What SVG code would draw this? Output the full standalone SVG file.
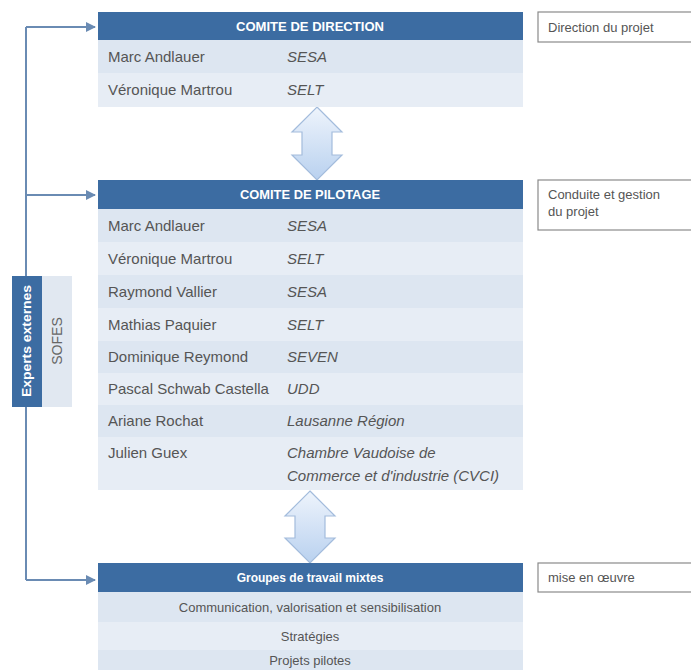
<svg xmlns="http://www.w3.org/2000/svg" width="691" height="670" viewBox="0 0 691 670">
<style>
.hdr{fill:#3c6ca2}
.r1{fill:#dde6f1}
.r2{fill:#e7edf5}
.ht{font-family:"Liberation Sans",Arial,sans-serif;font-weight:bold;fill:#fff;font-size:12px;text-anchor:middle}
.nm{font-family:"Liberation Sans",Arial,sans-serif;font-size:15px;fill:#555}
.org{font-family:"Liberation Sans",Arial,sans-serif;font-size:15px;fill:#555;font-style:italic}
.ct{font-family:"Liberation Sans",Arial,sans-serif;font-size:13px;fill:#555;text-anchor:middle}
.note{fill:#fff;stroke:#8a8a8a;stroke-width:1.2}
.nt{font-family:"Liberation Sans",Arial,sans-serif;font-size:13px;fill:#555}
.conn{fill:none;stroke:#6a8bb3;stroke-width:2}
.dbl{fill:url(#ag);stroke:#a3bcdc;stroke-width:1.2}
</style>
<defs>
<linearGradient id="ag" x1="0" y1="0" x2="0" y2="1">
<stop offset="0" stop-color="#eef4fc"/>
<stop offset="1" stop-color="#b9d1ef"/>
</linearGradient>
<marker id="ah" viewBox="0 0 10 10" refX="9" refY="5" markerWidth="5" markerHeight="5" orient="auto">
<path d="M0,0 L10,5 L0,10 Z" fill="#6a8bb3"/>
</marker>
</defs>

<g id="connectors">
<path class="conn" d="M26,27 V580"/>
<path class="conn" d="M26,27 H95" marker-end="url(#ah)"/>
<path class="conn" d="M26,195 H95" marker-end="url(#ah)"/>
<path class="conn" d="M26,580 H95" marker-end="url(#ah)"/>
<path class="dbl" d="M317,107 L342,132 L332,132 L332,155 L342,155 L317,180 L292,155 L302,155 L302,132 L292,132 Z"/>
<path class="dbl" d="M310,491 L335,516 L325,516 L325,538 L335,538 L310,563 L285,538 L295,538 L295,516 L285,516 Z"/>
</g>

<g id="experts">
<rect x="42" y="276" width="30" height="131" fill="#e1e8f1"/>
<rect x="12" y="276" width="30" height="131" class="hdr"/>
<text class="ht" transform="translate(31,341) rotate(-90)" font-size="11" textLength="112" lengthAdjust="spacingAndGlyphs">Experts externes</text>
<text transform="translate(62,341) rotate(-90)" font-family="Liberation Sans,Arial,sans-serif" font-size="14" fill="#666" text-anchor="middle">SOFES</text>
</g>

<g id="comite-direction">
<rect x="98" y="12" width="425" height="28" class="hdr"/>
<text class="ht" x="310" y="31" textLength="148" lengthAdjust="spacingAndGlyphs">COMITE DE DIRECTION</text>
<rect x="98" y="40" width="425" height="33" class="r1"/>
<rect x="98" y="73" width="425" height="34" class="r2"/>
<text class="nm" x="108" y="62">Marc Andlauer</text><text class="org" x="287" y="62">SESA</text>
<text class="nm" x="108" y="95">Véronique Martrou</text><text class="org" x="287" y="95">SELT</text>
</g>

<g id="comite-pilotage">
<rect x="98" y="180" width="425" height="29" class="hdr"/>
<text class="ht" x="310" y="199" textLength="140" lengthAdjust="spacingAndGlyphs">COMITE DE PILOTAGE</text>
<rect x="98" y="209" width="425" height="33" class="r1"/>
<rect x="98" y="242" width="425" height="33" class="r2"/>
<rect x="98" y="275" width="425" height="33" class="r1"/>
<rect x="98" y="308" width="425" height="33" class="r2"/>
<rect x="98" y="341" width="425" height="32" class="r1"/>
<rect x="98" y="373" width="425" height="32" class="r2"/>
<rect x="98" y="405" width="425" height="32" class="r1"/>
<rect x="98" y="437" width="425" height="53" class="r2"/>
<text class="nm" x="108" y="231">Marc Andlauer</text><text class="org" x="287" y="231">SESA</text>
<text class="nm" x="108" y="264">Véronique Martrou</text><text class="org" x="287" y="264">SELT</text>
<text class="nm" x="108" y="297">Raymond Vallier</text><text class="org" x="287" y="297">SESA</text>
<text class="nm" x="108" y="330">Mathias Paquier</text><text class="org" x="287" y="330">SELT</text>
<text class="nm" x="108" y="362">Dominique Reymond</text><text class="org" x="287" y="362">SEVEN</text>
<text class="nm" x="108" y="394">Pascal Schwab Castella</text><text class="org" x="287" y="394">UDD</text>
<text class="nm" x="108" y="426">Ariane Rochat</text><text class="org" x="287" y="426">Lausanne Région</text>
<text class="nm" x="108" y="458">Julien Guex</text><text class="org" x="287" y="458">Chambre Vaudoise de</text>
<text class="org" x="287" y="481">Commerce et d'industrie (CVCI)</text>
</g>

<g id="groupes-travail">
<rect x="98" y="563" width="425" height="29" class="hdr"/>
<text class="ht" x="310" y="582" font-size="12.5">Groupes de travail mixtes</text>
<rect x="98" y="592" width="425" height="30" class="r1"/>
<rect x="98" y="622" width="425" height="28" class="r2"/>
<rect x="98" y="650" width="425" height="20" class="r1"/>
<text class="ct" x="310" y="612">Communication, valorisation et sensibilisation</text>
<text class="ct" x="310" y="641">Stratégies</text>
<text class="ct" x="310" y="665">Projets pilotes</text>
</g>

<g id="note-direction">
<rect class="note" x="538" y="12" width="170" height="30"/>
<text class="nt" x="548" y="32">Direction du projet</text>
</g>
<g id="note-pilotage">
<rect class="note" x="538" y="180" width="170" height="50"/>
<text class="nt" x="548" y="199">Conduite et gestion</text>
<text class="nt" x="548" y="216">du projet</text>
</g>
<g id="note-travail">
<rect class="note" x="538" y="563" width="170" height="29"/>
<text class="nt" x="548" y="582">mise en œuvre</text>
</g>
</svg>
